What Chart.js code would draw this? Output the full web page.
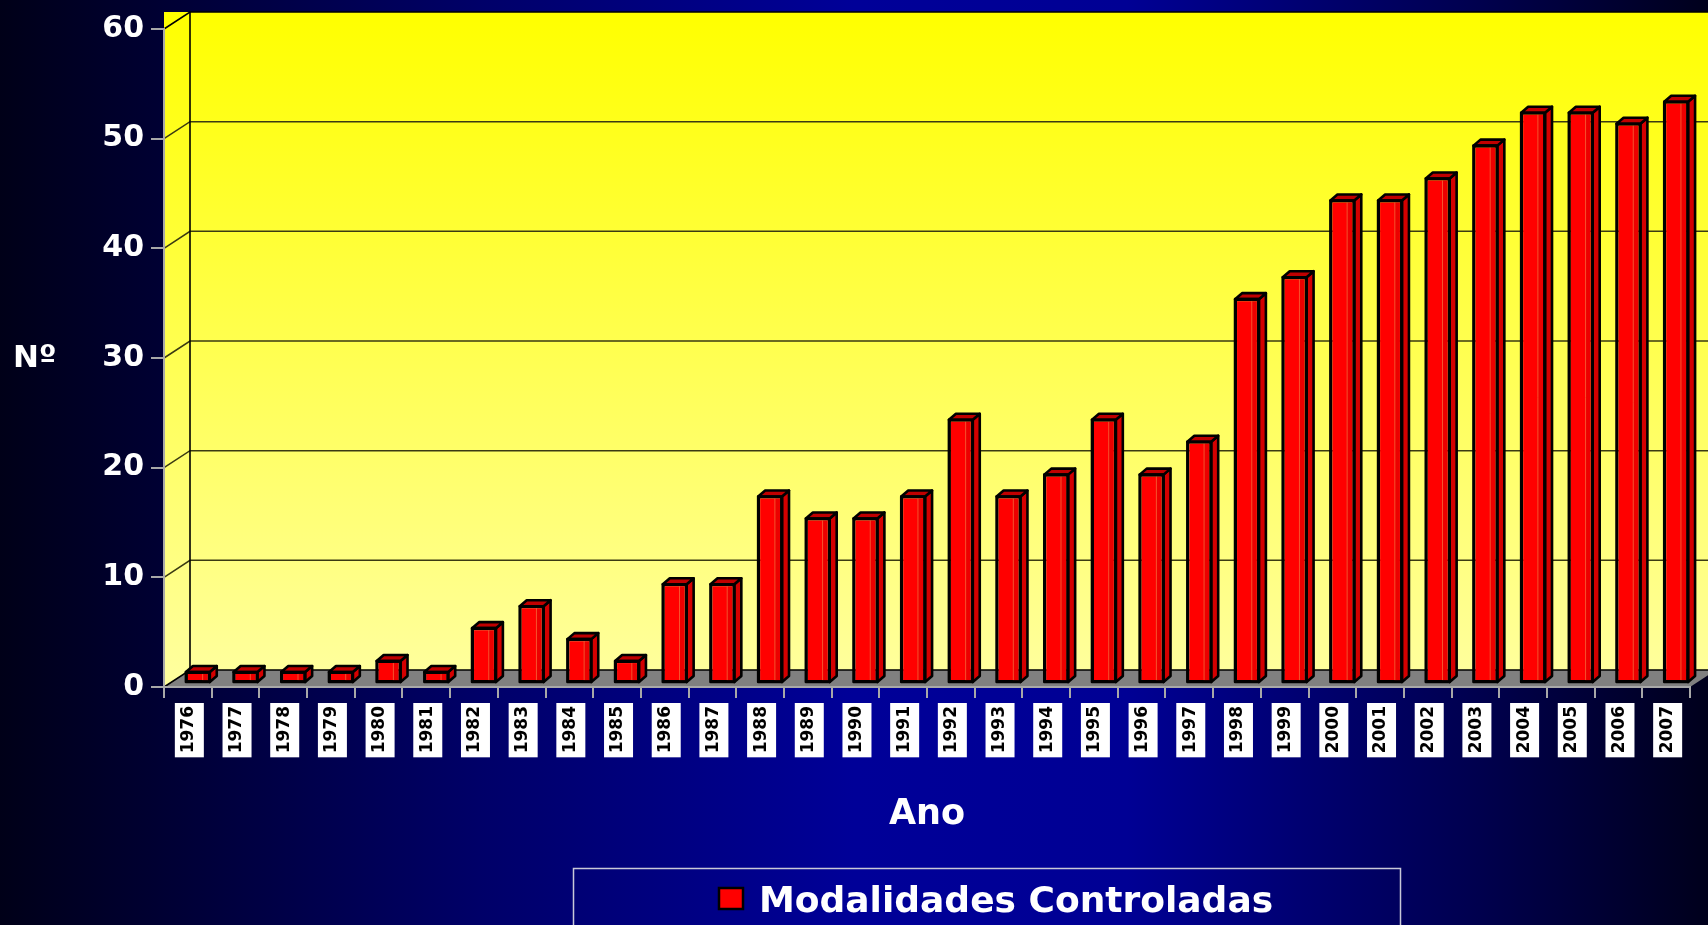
<!DOCTYPE html>
<html><head><meta charset="utf-8">
<script src="https://cdn.jsdelivr.net/npm/chart.js@4.4.1/dist/chart.umd.min.js"></script>
<style>html,body{margin:0;padding:0;background:#000040;overflow:hidden}#wrap{width:1708px;height:925px;position:relative}canvas{display:block}</style>
</head><body><div id="wrap"><canvas id="c" width="1708" height="925"></canvas></div>
<script>
const years = ['1976','1977','1978','1979','1980','1981','1982','1983','1984','1985','1986','1987','1988','1989','1990','1991','1992','1993','1994','1995','1996','1997','1998','1999','2000','2001','2002','2003','2004','2005','2006','2007'];
const modalidades = [1,1,1,1,2,1,5,7,4,2,9,9,17,15,15,17,24,17,19,24,19,22,35,37,44,44,46,49,52,52,51,53];
const yTicks = [0,10,20,30,40,50,60];
const seriesLabel = 'Modalidades Controladas';
const xTitle = 'Ano';
const yTitle = 'Nº';

const FONT = 'DejaVu Sans';
const WALL = {dx: 26, dy: -17};
const BAR_SHIFT = {x: 10, y: -4};
const BAR_DEPTH = {dx: 7, dy: -6};

const scene = {
  id: 'scene',
  beforeDraw(chart) {
    const ctx = chart.ctx, W = chart.width, H = chart.height;
    ctx.save();
    const bg = ctx.createLinearGradient(0, 0, W, 0);
    bg.addColorStop(0, '#000018');
    bg.addColorStop(0.28, '#000068');
    bg.addColorStop(0.5, '#000098');
    bg.addColorStop(0.66, '#000094');
    bg.addColorStop(0.86, '#000050');
    bg.addColorStop(1, '#00001c');
    ctx.fillStyle = bg;
    ctx.fillRect(0, 0, W, H);

    const ca = chart.chartArea, ys = chart.scales.y;
    const L = ca.left, R = ca.right, T = ca.top, B = ca.bottom;
    const wx = WALL.dx, wy = WALL.dy;
    const yel = ctx.createLinearGradient(0, T + wy, 0, B + wy);
    yel.addColorStop(0, '#ffff00');
    yel.addColorStop(1, '#ffff9c');
    ctx.fillStyle = yel;
    ctx.beginPath();
    ctx.moveTo(L, T + wy);
    ctx.lineTo(R + wx, T + wy);
    ctx.lineTo(R + wx, B + wy);
    ctx.lineTo(L + wx, B + wy);
    ctx.lineTo(L, B);
    ctx.closePath();
    ctx.fill();

    // floor
    ctx.fillStyle = '#808080';
    ctx.beginPath();
    ctx.moveTo(L, B);
    ctx.lineTo(L + wx, B + wy);
    ctx.lineTo(R + wx, B + wy);
    ctx.lineTo(R, B);
    ctx.closePath();
    ctx.fill();

    // grid lines on side + back wall
    yTicks.forEach(v => {
      const yy = ys.getPixelForValue(v);
      ctx.beginPath();
      ctx.moveTo(L, yy);
      ctx.lineTo(L + wx, yy + wy);
      ctx.lineTo(R + wx, yy + wy);
      ctx.strokeStyle = (v === 0 || v === 60) ? '#000000' : '#3a3a12';
      ctx.lineWidth = 1.5;
      ctx.stroke();
    });
    ctx.beginPath();
    ctx.moveTo(L + wx, T + wy);
    ctx.lineTo(L + wx, B + wy);
    ctx.strokeStyle = '#000';
    ctx.lineWidth = 1.6;
    ctx.stroke();
    ctx.restore();
  },
  beforeDatasetsDraw(chart) {
    chart.ctx.save();
    chart.ctx.translate(BAR_SHIFT.x, BAR_SHIFT.y);
  },
  afterDatasetsDraw(chart) {
    const ctx = chart.ctx;
    const meta = chart.getDatasetMeta(0);
    const dx = BAR_DEPTH.dx, dy = BAR_DEPTH.dy;
    ctx.lineJoin = 'round';
    meta.data.forEach(el => {
      const p = el.getProps(['x', 'y', 'base', 'width'], true);
      const l = p.x - p.width / 2, r = p.x + p.width / 2, t = p.y, b = p.base;
      // shading on front face
      const sw = p.width * 0.32;
      ctx.fillStyle = 'rgba(150,0,0,0.18)';
      ctx.fillRect(r - sw, t, sw, b - t);
      ctx.strokeStyle = 'rgba(255,150,80,0.55)';
      ctx.lineWidth = 1;
      ctx.beginPath();
      ctx.moveTo(r - sw + 0.5, t + 2);
      ctx.lineTo(r - sw + 0.5, b - 2);
      ctx.stroke();
      // side face
      ctx.beginPath();
      ctx.moveTo(r, t);
      ctx.lineTo(r + dx, t + dy);
      ctx.lineTo(r + dx, b + dy);
      ctx.lineTo(r, b);
      ctx.closePath();
      ctx.fillStyle = '#d40000';
      ctx.fill();
      ctx.strokeStyle = '#000';
      ctx.lineWidth = 2.6;
      ctx.stroke();
      // top face
      ctx.beginPath();
      ctx.moveTo(l, t);
      ctx.lineTo(l + dx, t + dy);
      ctx.lineTo(r + dx, t + dy);
      ctx.lineTo(r, t);
      ctx.closePath();
      ctx.fillStyle = '#c00000';
      ctx.fill();
      ctx.stroke();
      // front outline
      ctx.strokeRect(l, t, r - l, b - t);
    });
    ctx.restore();
  },
  afterDraw(chart) {
    const ctx = chart.ctx;
    ctx.save();
    // y title (horizontal)
    ctx.fillStyle = '#ffffff';
    ctx.font = 'bold 31px "' + FONT + '"';
    ctx.textAlign = 'left';
    ctx.textBaseline = 'alphabetic';
    ctx.fillText(yTitle, 13, 367);

    // legend
    const ds = chart.data.datasets[0];
    ctx.strokeStyle = '#c8c8d8';
    ctx.lineWidth = 1.5;
    ctx.strokeRect(573.5, 868.5, 827, 80);
    ctx.fillStyle = ds.backgroundColor;
    ctx.fillRect(719, 888, 24, 21);
    ctx.strokeStyle = '#000';
    ctx.lineWidth = 2.5;
    ctx.strokeRect(719, 888, 24, 21);
    ctx.fillStyle = '#ffffff';
    ctx.font = 'bold 36px "' + FONT + '"';
    ctx.fillText(ds.label, 759, 912);
    ctx.restore();
  }
};

new Chart(document.getElementById('c'), {
  type: 'bar',
  data: {
    labels: years,
    datasets: [{
      label: seriesLabel,
      data: modalidades,
      backgroundColor: '#ff0000',
      borderColor: '#000000',
      borderWidth: 2,
      borderSkipped: false,
      barPercentage: 0.5,
      categoryPercentage: 1.0,
      clip: false
    }]
  },
  options: {
    responsive: false,
    animation: false,
    devicePixelRatio: 1,
    layout: {padding: {top: 29, right: 18, left: 0, bottom: 0}},
    plugins: {legend: {display: false}, tooltip: {enabled: false}},
    scales: {
      x: {
        grid: {display: true, drawOnChartArea: false, drawTicks: true, tickLength: 11, color: '#a8a8a8', lineWidth: 2, offset: true},
        border: {display: true, color: '#a8a8a8', width: 2},
        ticks: {
          autoSkip: false, minRotation: 90, maxRotation: 90, color: '#000000',
          font: {family: FONT, weight: 'bold', size: 17, lineHeight: '2px'},
          padding: 8, showLabelBackdrop: true, backdropColor: '#ffffff',
          backdropPadding: {top: 13, bottom: 14, left: 4, right: 3}
        },
        title: {display: true, text: xTitle, color: '#ffffff', font: {family: FONT, weight: 'bold', size: 35}, padding: {top: 0, bottom: 89}},
        afterFit(s) { s.height = 238; }
      },
      y: {
        min: 0, max: 60,
        afterBuildTicks(s) { s.ticks = yTicks.map(v => ({value: v})); },
        ticks: {color: '#ffffff', font: {family: FONT, weight: 'bold', size: 30}, padding: 7},
        grid: {drawOnChartArea: false, tickLength: 13, color: '#a8a8a8', lineWidth: 2},
        border: {display: true, color: '#a8a8a8', width: 2},
        afterFit(s) { s.width = 164; }
      }
    }
  },
  plugins: [scene]
});
</script>
</body></html>
